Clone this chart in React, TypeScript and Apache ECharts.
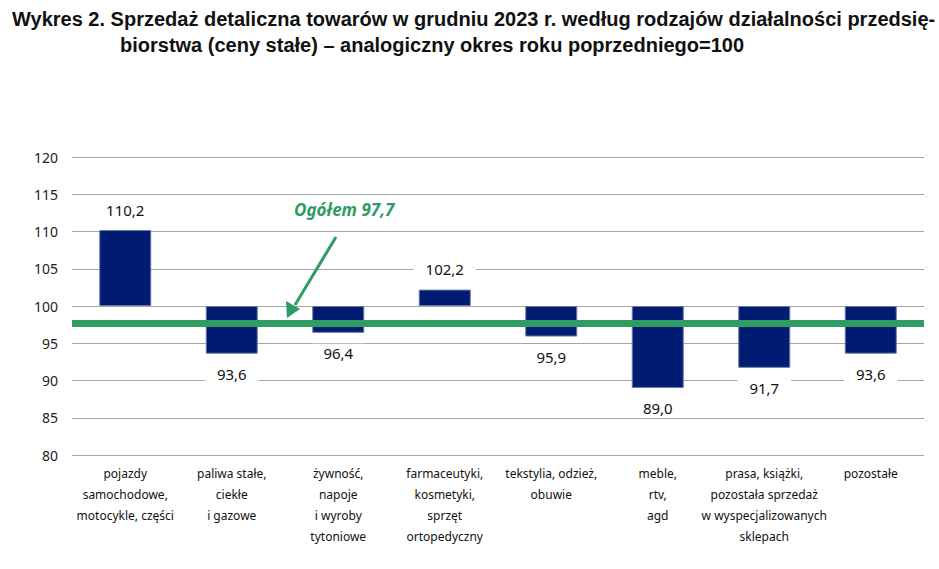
import React, { useEffect, useRef } from "react";
import * as echarts from "echarts";

const categories = [
  "pojazdy\nsamochodowe,\nmotocykle, części",
  "paliwa stałe,\nciekłe\ni gazowe",
  "żywność,\nnapoje\ni wyroby\ntytoniowe",
  "farmaceutyki,\nkosmetyki,\nsprzęt\nortopedyczny",
  "tekstylia, odzież,\nobuwie",
  "meble,\nrtv,\nagd",
  "prasa, książki,\npozostała sprzedaż\nw wyspecjalizowanych\nsklepach",
  "pozostałe",
];
const values = [110.2, 93.6, 96.4, 102.2, 95.9, 89.0, 91.7, 93.6];
const baseValue = 100;
const totalValue = 97.7;
const yTicks = { min: 80, max: 120, interval: 5 };
const titleLine1 =
  "Wykres 2. Sprzedaż detaliczna towarów w grudniu 2023 r. według rodzajów działalności przedsię-";
const titleLine2 = "biorstwa (ceny stałe) – analogiczny okres roku poprzedniego=100";
const annotationText = "Ogółem 97,7";

const NAVY = "#001b72";
const GREEN = "#2f9c64";
const FONT = "'Liberation Sans', 'Noto Sans', sans-serif";
const AXFONT = "'Noto Sans', 'Open Sans', sans-serif";

const fmt = (v: number) => v.toFixed(1).replace(".", ",");

export default function App() {
  const ref = useRef<HTMLDivElement>(null);
  useEffect(() => {
    if (!ref.current) return;
    const chart = echarts.init(ref.current, undefined, { renderer: "svg" });
    const helper = values.map((v) => Math.min(v, baseValue));
    const visible = values.map((v, i) => ({
      value: Math.abs(v - baseValue),
      label: {
        position: v >= baseValue ? "top" : "bottom",
        formatter: () => fmt(values[i]),
      },
    }));
    chart.setOption({
      animation: false,
      title: [
        {
          text: titleLine1,
          left: 12,
          top: 9,
          padding: 0,
          textStyle: { fontFamily: FONT, fontWeight: "bold", fontSize: 20, color: "#111" },
        },
        {
          text: titleLine2,
          left: 120,
          top: 35,
          padding: 0,
          textStyle: { fontFamily: FONT, fontWeight: "bold", fontSize: 20, color: "#111" },
        },
      ],
      grid: { left: 72, right: 15, top: 157, bottom: 114, containLabel: false },
      xAxis: {
        type: "category",
        data: categories,
        axisLine: { show: false },
        axisTick: { show: false },
        axisLabel: {
          interval: 0,
          margin: 8,
          fontFamily: AXFONT,
          fontSize: 12,
          lineHeight: 21,
          color: "#111",
          verticalAlign: "top",
        },
      },
      yAxis: {
        type: "value",
        min: yTicks.min,
        max: yTicks.max,
        interval: yTicks.interval,
        axisLine: { show: false },
        axisTick: { show: false },
        axisLabel: { fontFamily: AXFONT, fontSize: 14, color: "#222", margin: 14 },
        splitLine: { lineStyle: { color: "#a6a6a6", width: 1 } },
      },
      series: [
        {
          type: "bar",
          stack: "s",
          data: helper,
          itemStyle: { color: "transparent" },
          barWidth: 52,
          silent: true,
        },
        {
          type: "bar",
          stack: "s",
          data: visible,
          barWidth: 52,
          itemStyle: { color: NAVY, borderColor: "#6b78a8", borderWidth: 1 },
          label: {
            show: true,
            distance: 11,
            fontFamily: AXFONT,
            fontSize: 15,
            color: "#111",
            backgroundColor: "#fff",
            padding: [2, 12],
          },
          markLine: {
            silent: true,
            symbol: "none",
            label: { show: false },
            lineStyle: { color: GREEN, width: 7, type: "solid" },
            data: [{ yAxis: totalValue }],
          },
          z: 3,
        },
      ],
      graphic: [
        {
          type: "text",
          left: 294,
          top: 201,
          style: {
            text: annotationText,
            fontFamily: AXFONT,
            fontStyle: "italic",
            fontWeight: "bold",
            fontSize: 17,
            fill: GREEN,
          },
          z: 10,
        },
        {
          type: "line",
          shape: { x1: 336, y1: 237, x2: 295, y2: 305 },
          style: { stroke: GREEN, lineWidth: 3 },
          z: 10,
        },
        {
          type: "polygon",
          shape: { points: [[287, 318], [286, 301], [300, 309]] },
          style: { fill: GREEN },
          z: 10,
        },
      ],
    });
    return () => chart.dispose();
  }, []);
  return (
    <div
      ref={ref}
      style={{ position: "fixed", left: 0, top: 0, width: 939, height: 569, background: "#fff" }}
    />
  );
}
